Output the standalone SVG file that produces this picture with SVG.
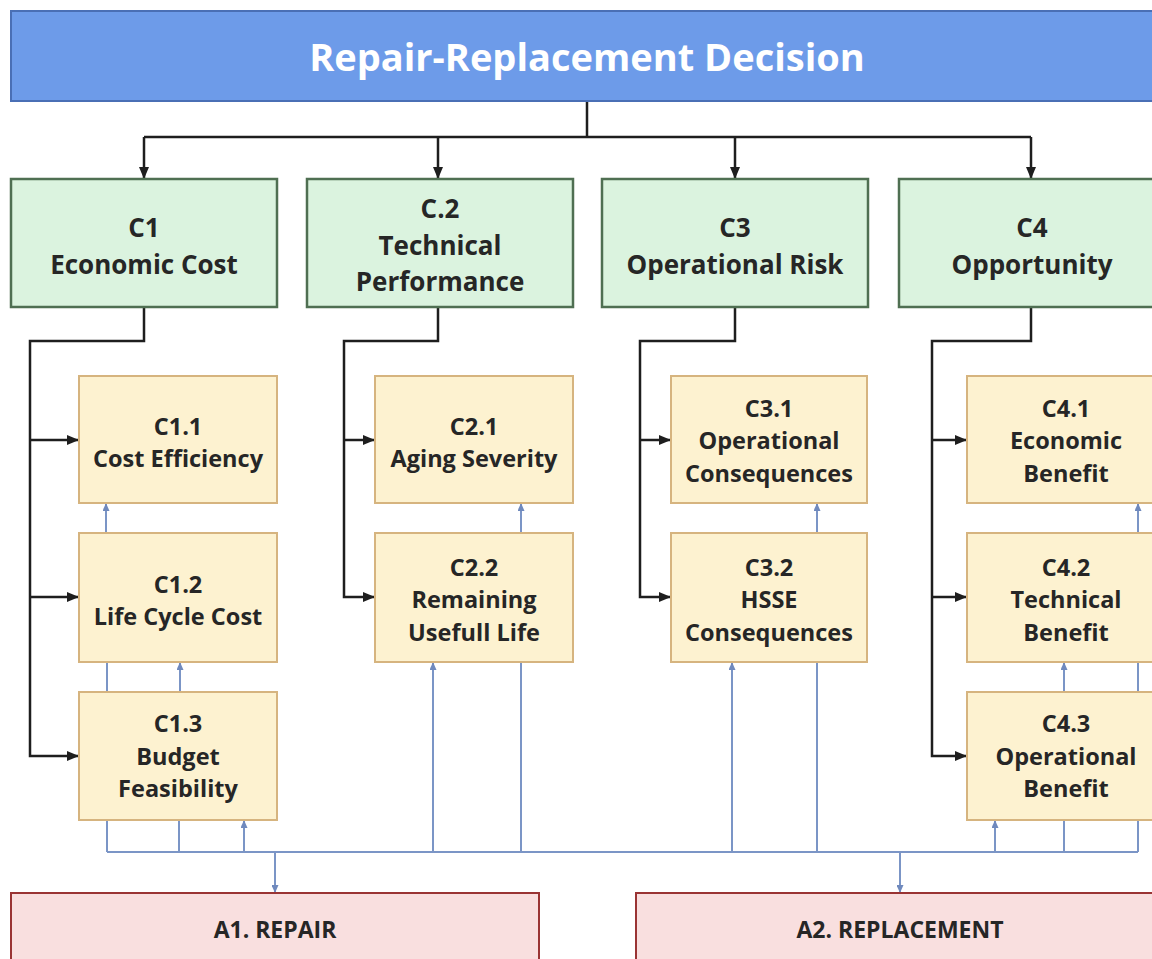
<svg xmlns="http://www.w3.org/2000/svg" width="1152" height="959" viewBox="0 0 1152 959">
  <style>
    .title { fill: #6d9be9; stroke: #4a6fb5; stroke-width: 2; }
    .crit { fill: #dbf3df; stroke: #4f6f52; stroke-width: 2.5; }
    .sub { fill: #fdf2d0; stroke: #d6b47f; stroke-width: 2; }
    .alt { fill: #f9dfdf; stroke: #9a3434; stroke-width: 2; }
    text { font-family: "Open Sans", "Noto Sans", "Liberation Sans", sans-serif; font-weight: bold; text-anchor: middle; fill: #262626; }
    .tt { font-size: 38px; fill: #ffffff; }
    .ct { font-size: 26px; }
    .st { font-size: 23.5px; }
    .at { font-size: 23px; }
    .blk { fill: none; stroke: #1e1e1e; stroke-width: 2.5; }
    .blu { fill: none; stroke: #7b95c6; stroke-width: 2; }
  </style>
  <defs>
    <marker id="ah" markerUnits="userSpaceOnUse" markerWidth="12" markerHeight="10" refX="11" refY="5" orient="auto">
      <path d="M0,0 L12,5 L0,10 Z" fill="#1e1e1e"/>
    </marker>
    <marker id="bh" markerUnits="userSpaceOnUse" markerWidth="8" markerHeight="7" refX="7" refY="3.5" orient="auto">
      <path d="M0,0 L8,3.5 L0,7 Z" fill="#6f89bd"/>
    </marker>
  </defs>

  <rect width="1152" height="959" fill="#ffffff"/>

  <!-- connectors -->
  <g id="connectors">
    <!-- goal to criteria -->
    <path class="blk" d="M587 101 V137 M144 137 H1031"/>
    <path class="blk" d="M144 137 V178" marker-end="url(#ah)"/>
    <path class="blk" d="M438 137 V178" marker-end="url(#ah)"/>
    <path class="blk" d="M735 137 V178" marker-end="url(#ah)"/>
    <path class="blk" d="M1031 137 V178" marker-end="url(#ah)"/>

    <!-- criteria to sub-criteria -->
    <path class="blk" d="M144 307 V341 H30 V756 H78" marker-end="url(#ah)"/>
    <path class="blk" d="M30 440 H78" marker-end="url(#ah)"/>
    <path class="blk" d="M30 597 H78" marker-end="url(#ah)"/>

    <path class="blk" d="M438 307 V341 H344 V597 H374" marker-end="url(#ah)"/>
    <path class="blk" d="M344 440 H374" marker-end="url(#ah)"/>

    <path class="blk" d="M735 307 V341 H640 V597 H670" marker-end="url(#ah)"/>
    <path class="blk" d="M640 440 H670" marker-end="url(#ah)"/>

    <path class="blk" d="M1031 307 V341 H932 V756 H966" marker-end="url(#ah)"/>
    <path class="blk" d="M932 440 H966" marker-end="url(#ah)"/>
    <path class="blk" d="M932 597 H966" marker-end="url(#ah)"/>

    <!-- alternatives bus -->
    <path class="blu" d="M107 852 H1138"/>
    <path class="blu" d="M275 852 V892" marker-end="url(#bh)"/>
    <path class="blu" d="M900 852 V892" marker-end="url(#bh)"/>

    <!-- C1 links -->
    <path class="blu" d="M106 533 V504" marker-end="url(#bh)"/>
    <path class="blu" d="M107 662 V692"/>
    <path class="blu" d="M180 692 V663" marker-end="url(#bh)"/>
    <path class="blu" d="M107 820 V852 M179 820 V852"/>
    <path class="blu" d="M244 852 V821" marker-end="url(#bh)"/>

    <!-- C2 links -->
    <path class="blu" d="M521 533 V504" marker-end="url(#bh)"/>
    <path class="blu" d="M433 852 V663" marker-end="url(#bh)"/>
    <path class="blu" d="M521 662 V852"/>

    <!-- C3 links -->
    <path class="blu" d="M817 533 V504" marker-end="url(#bh)"/>
    <path class="blu" d="M732 852 V663" marker-end="url(#bh)"/>
    <path class="blu" d="M817 662 V852"/>

    <!-- C4 links -->
    <path class="blu" d="M1138 533 V504" marker-end="url(#bh)"/>
    <path class="blu" d="M1064 692 V663" marker-end="url(#bh)"/>
    <path class="blu" d="M1138 662 V692"/>
    <path class="blu" d="M995 852 V821" marker-end="url(#bh)"/>
    <path class="blu" d="M1064 820 V852 M1138 820 V852"/>
  </g>

  <!-- goal -->
  <g id="goal">
    <rect class="title" x="11" y="11" width="1154" height="90"/>
    <text class="tt" x="587" y="71">Repair-Replacement Decision</text>
  </g>

  <!-- criteria -->
  <g id="c1">
    <rect class="crit" x="11" y="179" width="266" height="128"/>
    <text class="ct" x="144" y="237">C1</text>
    <text class="ct" x="144" y="274">Economic Cost</text>
  </g>
  <g id="c2">
    <rect class="crit" x="307" y="179" width="266" height="128"/>
    <text class="ct" x="440" y="218">C.2</text>
    <text class="ct" x="440" y="255">Technical</text>
    <text class="ct" x="440" y="291">Performance</text>
  </g>
  <g id="c3">
    <rect class="crit" x="602" y="179" width="266" height="128"/>
    <text class="ct" x="735" y="237">C3</text>
    <text class="ct" x="735" y="274">Operational Risk</text>
  </g>
  <g id="c4">
    <rect class="crit" x="899" y="179" width="266" height="128"/>
    <text class="ct" x="1032" y="237">C4</text>
    <text class="ct" x="1032" y="274">Opportunity</text>
  </g>

  <!-- sub-criteria -->
  <g id="c1-1">
    <rect class="sub" x="79" y="376" width="198" height="127"/>
    <text class="st" x="178" y="435">C1.1</text>
    <text class="st" x="178" y="467">Cost Efficiency</text>
  </g>
  <g id="c1-2">
    <rect class="sub" x="79" y="533" width="198" height="129"/>
    <text class="st" x="178" y="593">C1.2</text>
    <text class="st" x="178" y="625">Life Cycle Cost</text>
  </g>
  <g id="c1-3">
    <rect class="sub" x="79" y="692" width="198" height="128"/>
    <text class="st" x="178" y="732">C1.3</text>
    <text class="st" x="178" y="765">Budget</text>
    <text class="st" x="178" y="797">Feasibility</text>
  </g>

  <g id="c2-1">
    <rect class="sub" x="375" y="376" width="198" height="127"/>
    <text class="st" x="474" y="435">C2.1</text>
    <text class="st" x="474" y="467">Aging Severity</text>
  </g>
  <g id="c2-2">
    <rect class="sub" x="375" y="533" width="198" height="129"/>
    <text class="st" x="474" y="576">C2.2</text>
    <text class="st" x="474" y="608">Remaining</text>
    <text class="st" x="474" y="641">Usefull Life</text>
  </g>

  <g id="c3-1">
    <rect class="sub" x="671" y="376" width="196" height="127"/>
    <text class="st" x="769" y="417">C3.1</text>
    <text class="st" x="769" y="449">Operational</text>
    <text class="st" x="769" y="482">Consequences</text>
  </g>
  <g id="c3-2">
    <rect class="sub" x="671" y="533" width="196" height="129"/>
    <text class="st" x="769" y="576">C3.2</text>
    <text class="st" x="769" y="608">HSSE</text>
    <text class="st" x="769" y="641">Consequences</text>
  </g>

  <g id="c4-1">
    <rect class="sub" x="967" y="376" width="198" height="127"/>
    <text class="st" x="1066" y="417">C4.1</text>
    <text class="st" x="1066" y="449">Economic</text>
    <text class="st" x="1066" y="482">Benefit</text>
  </g>
  <g id="c4-2">
    <rect class="sub" x="967" y="533" width="198" height="129"/>
    <text class="st" x="1066" y="576">C4.2</text>
    <text class="st" x="1066" y="608">Technical</text>
    <text class="st" x="1066" y="641">Benefit</text>
  </g>
  <g id="c4-3">
    <rect class="sub" x="967" y="692" width="198" height="128"/>
    <text class="st" x="1066" y="732">C4.3</text>
    <text class="st" x="1066" y="765">Operational</text>
    <text class="st" x="1066" y="797">Benefit</text>
  </g>

  <!-- alternatives -->
  <g id="a1">
    <rect class="alt" x="11" y="893" width="528" height="90"/>
    <text class="at" x="275" y="938">A1. REPAIR</text>
  </g>
  <g id="a2">
    <rect class="alt" x="636" y="893" width="528" height="90"/>
    <text class="at" x="900" y="938">A2. REPLACEMENT</text>
  </g>
</svg>
